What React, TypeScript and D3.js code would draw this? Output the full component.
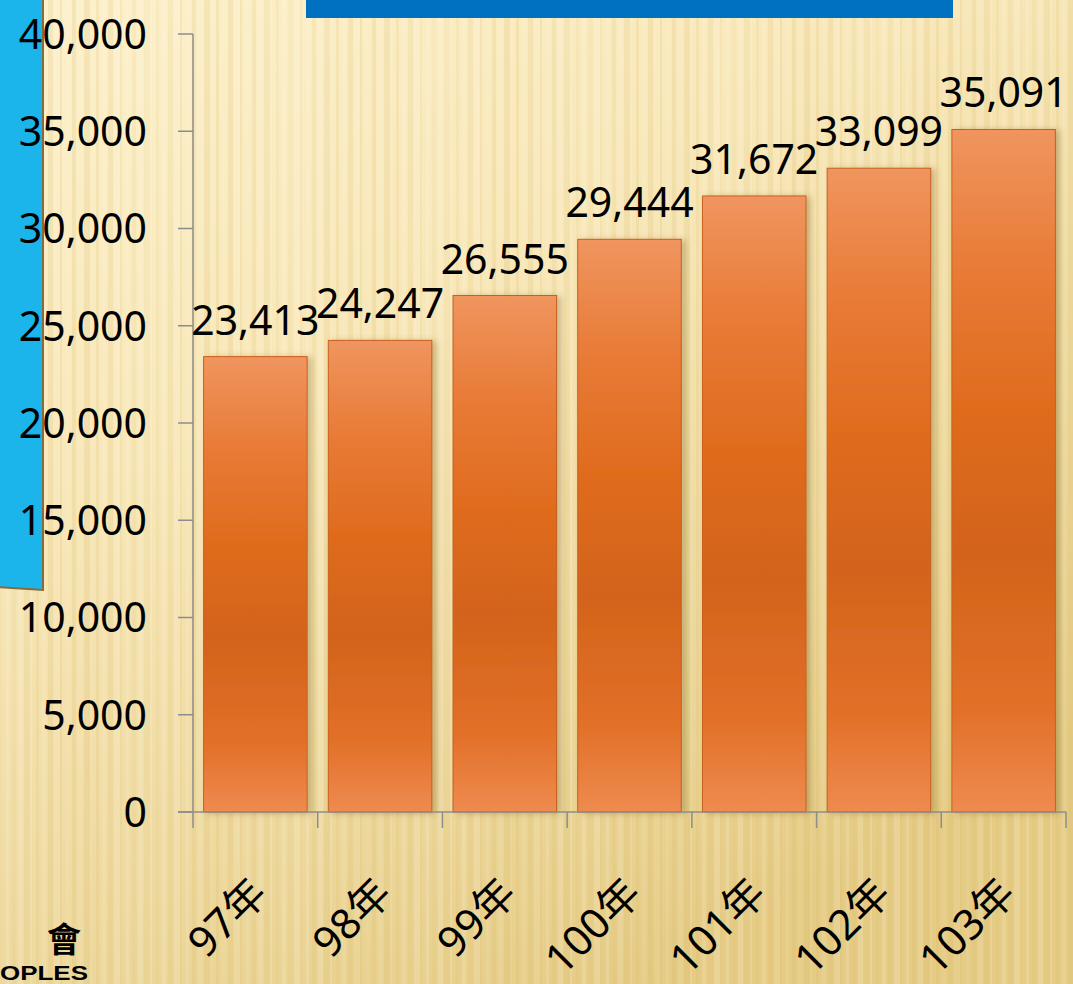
import React from 'react';
import * as d3 from 'd3';

const categories = ['97年', '98年', '99年', '100年', '101年', '102年', '103年'];
const values = [23413, 24247, 26555, 29444, 31672, 33099, 35091];
const yTicks = [0, 5000, 10000, 15000, 20000, 25000, 30000, 35000, 40000];

const W = 1073;
const H = 984;
const FONT = '"Noto Sans", "Noto Sans CJK TC", sans-serif';

export default function App() {
  const x = d3.scaleBand<string>().domain(categories).range([193, 1066]).paddingInner(0.17).paddingOuter(0.085);
  const y = d3.scaleLinear().domain([0, 40000]).range([812, 34]);
  const fmt = d3.format(',');

  // decorative vertical streaks for the paper background
  const streaks = d3.range(0, W, 6).map((sx, i) => ({
    x: sx,
    w: 2 + (i % 5),
    o: 0.06 + 0.12 * Math.abs(Math.sin(i * 1.7)),
  }));

  const bandEdges = categories.map(c => x(c)! - (x.step() * x.paddingInner()) / 2);
  bandEdges.push(1066);

  return (
    <div style={{ position: 'fixed', left: 0, top: 0, width: W, height: H, overflow: 'hidden' }}>
      <svg width={W} height={H} style={{ display: 'block' }}>
        <defs>
          <linearGradient id="bg" x1="0" y1="0" x2="0.6" y2="1">
            <stop offset="0" stopColor="#FDF1CC" />
            <stop offset="0.4" stopColor="#F8E7B8" />
            <stop offset="0.75" stopColor="#EDD89C" />
            <stop offset="1" stopColor="#E5CB84" />
          </linearGradient>
          <linearGradient id="bar" x1="0" y1="0" x2="0" y2="1">
            <stop offset="0" stopColor="#F0955F" />
            <stop offset="0.2" stopColor="#E87B37" />
            <stop offset="0.4" stopColor="#E06C1F" />
            <stop offset="0.62" stopColor="#D3631A" />
            <stop offset="0.85" stopColor="#E27028" />
            <stop offset="1" stopColor="#EE8B50" />
          </linearGradient>
          <filter id="shadow" x="-20%" y="-5%" width="140%" height="110%">
            <feDropShadow dx="4" dy="1" stdDeviation="3" floodColor="#7a5a20" floodOpacity="0.35" />
          </filter>
        </defs>

        <rect width={W} height={H} fill="url(#bg)" />
        {streaks.map((s, i) => (
          <rect key={i} x={s.x} y={0} width={s.w} height={H} fill={i % 2 ? '#fffaf0' : '#d6b866'} opacity={s.o} />
        ))}

        {/* top blue band */}
        <rect x={306} y={0} width={647} height={18} fill="#0070C0" />

        {/* left cyan panel */}
        <path d="M-2,-2 L43,-2 L43,590 L-2,587 Z" fill="#1BB5EB" stroke="#8B6A3A" strokeWidth={2} />

        {/* y axis */}
        <line x1={193} x2={193} y1={y(40000)} y2={y(0)} stroke="#8C8C8C" strokeWidth={1.5} />
        {yTicks.map(t => (
          <g key={t}>
            <line x1={178} x2={193} y1={y(t)} y2={y(t)} stroke="#8C8C8C" strokeWidth={1.5} />
            <text x={147} y={y(t)} dy="0.36em" textAnchor="end" fontSize={41} fontFamily={FONT} fill="#000">
              {fmt(t)}
            </text>
          </g>
        ))}

        {/* bars */}
        {categories.map((c, i) => (
          <rect
            key={c}
            x={x(c)}
            y={y(values[i])}
            width={x.bandwidth()}
            height={y(0) - y(values[i])}
            fill="url(#bar)"
            stroke="#C8601E"
            strokeWidth={1}
            filter="url(#shadow)"
          />
        ))}

        {/* x axis */}
        <line x1={178} x2={1066} y1={y(0)} y2={y(0)} stroke="#8C8C8C" strokeWidth={1.5} />
        {bandEdges.map((e, i) => (
          <line key={i} x1={e} x2={e} y1={y(0)} y2={y(0) + 16} stroke="#8C8C8C" strokeWidth={1.5} />
        ))}

        {/* value labels */}
        {categories.map((c, i) => (
          <text
            key={c}
            x={x(c)! + x.bandwidth() / 2}
            y={y(values[i]) - 22}
            textAnchor="middle"
            fontSize={41}
            fontFamily={FONT}
            fill="#000"
          >
            {fmt(values[i])}
          </text>
        ))}

        {/* category labels */}
        {categories.map(c => (
          <text
            key={c}
            transform={`translate(${x(c)! + x.bandwidth() / 2 + 14},896) rotate(-45)`}
            textAnchor="end"
            fontSize={42}
            fontFamily={FONT}
            fill="#000"
          >
            {c}
          </text>
        ))}

        {/* logo fragment */}
        <text x={64} y={952} textAnchor="middle" fontSize={34} fontWeight="bold" fontFamily='"Noto Sans CJK TC", sans-serif' fill="#000">
          會
        </text>
        <text x={0} y={980} fontSize={21} fontWeight="bold" textLength={88} lengthAdjust="spacingAndGlyphs" fontFamily='"Liberation Sans", Arial, sans-serif' fill="#000">
          OPLES
        </text>
      </svg>
    </div>
  );
}
